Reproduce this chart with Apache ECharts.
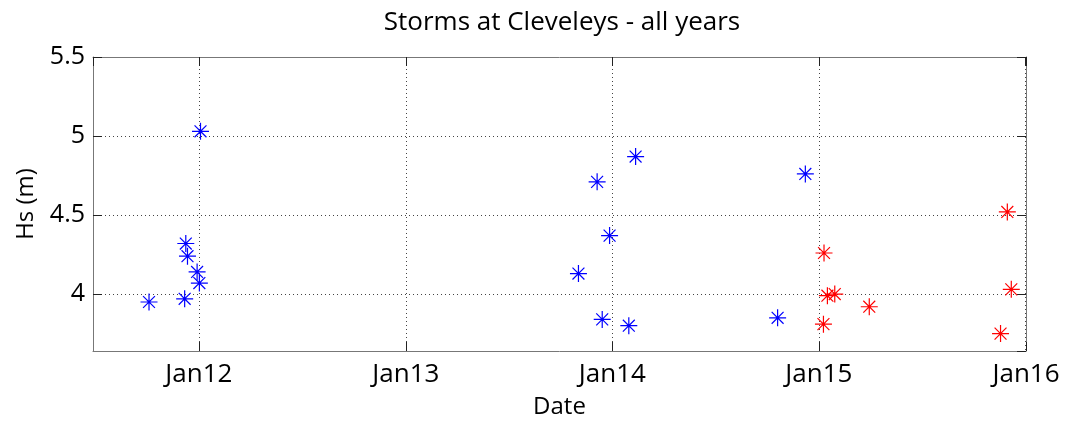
<!DOCTYPE html>
<html>
<head>
<meta charset="utf-8">
<script src="https://cdn.jsdelivr.net/npm/echarts@6/dist/echarts.min.js"></script>
<style>html,body{margin:0;padding:0;background:#fff;}#c{width:1067px;height:426px;}</style>
</head>
<body>
<div id="c"></div>
<script>
const blueDates = ['2011-10-05','2011-12-07','2011-12-09','2011-12-12','2011-12-29','2012-01-02','2012-01-04','2013-11-02','2013-12-05','2013-12-14','2013-12-27','2014-01-30','2014-02-11','2014-10-20','2014-12-08'];
const blueHs = [3.95,3.97,4.32,4.24,4.14,4.07,5.03,4.13,4.71,3.84,4.37,3.80,4.87,3.85,4.76];
const redDates = ['2015-01-09','2015-01-10','2015-01-16','2015-01-29','2015-03-31','2015-11-18','2015-11-30','2015-12-07'];
const redHs = [3.81,4.26,3.99,4.00,3.92,3.75,4.52,4.03];
const xMin = '2011-06-28', xMax = '2016-01-02';
const yMin = 3.64, yMax = 5.5;
const titleText = 'Storms at Cleveleys - all years';

const FONT = 'Open Sans';
const star = 'path://M0,-10L0,10M-10,0L10,0M-7,-7L7,7M-7,7L7,-7';
const chart = echarts.init(document.getElementById('c'), null, {renderer: 'canvas'});
const axisLine = {show: true, lineStyle: {color: '#777', width: 1}};
const tickStyle = {show: true, inside: true, length: 9, lineStyle: {color: '#222', width: 1}};
const gridLine = {show: true, lineStyle: {color: '#444', width: 1, type: [1, 3]}};
function monYr(v) {
  const d = new Date(v);
  return 'Jan' + String(d.getFullYear()).slice(2);
}
chart.setOption({
  animation: false,
  title: {text: titleText, left: 557, textAlign: 'center', top: 5,
    textStyle: {fontFamily: FONT, fontSize: 26, fontWeight: 'normal', color: '#000'}},
  grid: {left: 93, right: 41, top: 57, bottom: 75, containLabel: false},
  xAxis: [{
    type: 'time', min: xMin, max: xMax, splitNumber: 5,
    minInterval: 300 * 86400000, maxInterval: 400 * 86400000,
    name: 'Date', nameLocation: 'middle', nameGap: 44,
    nameTextStyle: {fontFamily: FONT, fontSize: 24, color: '#000'},
    axisLine: axisLine, axisTick: tickStyle, splitLine: gridLine,
    axisLabel: {fontFamily: FONT, fontSize: 26, color: '#000', margin: 11,
      formatter: monYr, showMinLabel: false, showMaxLabel: true, hideOverlap: false}
  }, {
    type: 'time', min: xMin, max: xMax, splitNumber: 5, position: 'top',
    minInterval: 300 * 86400000, maxInterval: 400 * 86400000,
    axisLine: axisLine, axisTick: tickStyle, splitLine: {show: false}, axisLabel: {show: false}
  }],
  yAxis: [{
    type: 'value', min: yMin, max: yMax, splitNumber: 4,
    name: 'Hs (m)', nameLocation: 'middle', nameGap: 55,
    nameTextStyle: {fontFamily: FONT, fontSize: 24, color: '#000'},
    axisLine: axisLine, axisTick: tickStyle, splitLine: gridLine,
    axisLabel: {fontFamily: FONT, fontSize: 25, color: '#000', margin: 8, showMinLabel: false}
  }, {
    type: 'value', min: yMin, max: yMax, splitNumber: 4, position: 'right',
    axisLine: axisLine, axisTick: tickStyle, splitLine: {show: false}, axisLabel: {show: false}
  }],
  series: [{
    type: 'scatter', xAxisIndex: 0, yAxisIndex: 0,
    data: blueDates.map((d, i) => [d, blueHs[i]]),
    symbol: star, symbolSize: 17,
    itemStyle: {color: '#0000ff', borderColor: '#0000ff', borderWidth: 1.2, opacity: 1}
  }, {
    type: 'scatter', xAxisIndex: 0, yAxisIndex: 0,
    data: redDates.map((d, i) => [d, redHs[i]]),
    symbol: star, symbolSize: 17,
    itemStyle: {color: '#ff0000', borderColor: '#ff0000', borderWidth: 1.2, opacity: 1}
  }]
});
</script>
</body>
</html>
